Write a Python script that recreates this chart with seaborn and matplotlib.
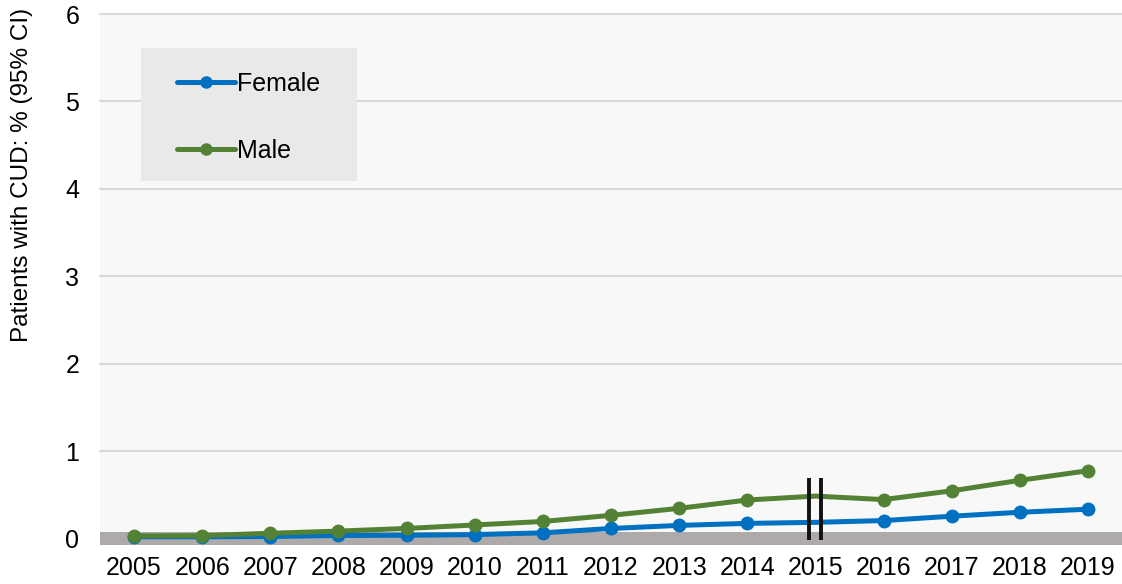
import matplotlib
matplotlib.use("Agg")
import matplotlib.pyplot as plt
from matplotlib.lines import Line2D
from matplotlib.patches import Rectangle
import seaborn as sns
import pandas as pd

years = [str(y) for y in range(2005, 2020)]
female = [0.025, 0.025, 0.028, 0.04, 0.042, 0.05, 0.07, 0.12, 0.155, 0.178, 0.19, 0.21, 0.26, 0.305, 0.34]
male = [0.035, 0.038, 0.065, 0.09, 0.12, 0.16, 0.20, 0.27, 0.35, 0.445, 0.49, 0.45, 0.55, 0.67, 0.78]
series_names = ["Female", "Male"]
colors = {"Female": "#0070C0", "Male": "#548235"}
break_year = "2015"
yticks = [0, 1, 2, 3, 4, 5, 6]

df = pd.DataFrame({
    "year": years * 2,
    "value": female + male,
    "sex": ["Female"] * len(years) + ["Male"] * len(years),
})

sns.set_style("white")
plt.rcParams["font.family"] = ["Liberation Sans", "DejaVu Sans"]
plt.rcParams["text.color"] = "black"
plt.rcParams["axes.labelcolor"] = "black"

fig = plt.figure(figsize=(11.22, 5.84), dpi=100)
ax = fig.add_axes([100 / 1122, 1 - 545 / 584, 1022 / 1122, 531 / 584])
ax.set_facecolor("#F8F8F8")

brk = years.index(break_year)
marks = [i for i in range(len(years)) if i != brk]

sns.lineplot(data=df, x="year", y="value", hue="sex", palette=colors, ax=ax,
             linewidth=3.6, marker="o", markersize=10, markeredgewidth=0,
             markevery=marks, legend=False, sort=False, zorder=3)

ax.set_xlim(-0.5, len(years) - 0.5)
ax.set_ylim(-0.069, 6.0)
ax.set_yticks(yticks)
ax.set_yticklabels([str(t) for t in yticks])
for t in yticks[1:]:
    ax.axhline(t, color="#D9D9D9", lw=1.5, zorder=1, clip_on=False)
ax.axhspan(-0.069, 0.075, color="#AEAAAA", zorder=2, lw=0)

# axis break marks
for dx in (-0.088, 0.088):
    ax.plot([brk + dx, brk + dx], [-0.01, 0.70], color="#111111", lw=2.8, zorder=5,
            solid_capstyle="butt")

for s in ax.spines.values():
    s.set_visible(False)
ax.tick_params(axis="both", length=0, labelsize=18, colors="black")
ax.tick_params(axis="x", pad=8)
ax.tick_params(axis="y", pad=15)
ax.set_xlabel("")
ax.set_ylabel("Patients with CUD: % (95% CI)", fontsize=17.5, color="black")
ax.yaxis.set_label_coords(-0.066, 0.697)

# legend background
ax.add_patch(Rectangle(((141 - 100) / 1022, (545 - 181) / 531), 216 / 1022, 133 / 531,
                       transform=ax.transAxes, facecolor="#E9E9E9", edgecolor="none",
                       zorder=6))
handles = [Line2D([0], [0], color=colors[n], lw=3.6, marker="o", markersize=9,
                  markeredgewidth=0) for n in series_names]
leg = ax.legend(handles, series_names, loc="upper left", frameon=False,
                bbox_to_anchor=((177 - 100) / 1022, (545 - 72) / 531),
                borderpad=0, borderaxespad=0, handlelength=2.3, handletextpad=0.1,
                labelspacing=1.7, fontsize=18, labelcolor="black")
leg.set_zorder(7)

fig.savefig("out.png", dpi=100)
